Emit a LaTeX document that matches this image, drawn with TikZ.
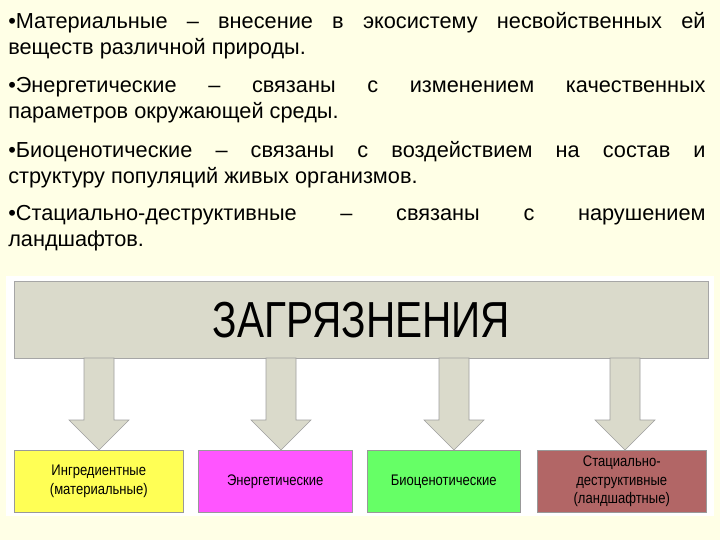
\documentclass[tikz,border=0pt]{standalone}
\usepackage{fontspec}
\setmainfont{Liberation Sans}
\begin{document}
\begin{tikzpicture}[x=0.75pt,y=-0.75pt,
  bul/.style={anchor=north west,text width=523pt,align=justify,inner sep=0pt,font=\fontsize{16.3}{19.5}\selectfont},
  hdr/.style={draw=gray!70,fill=hdrgray},
  cbox/.style={draw=gray!80,minimum height=46.5pt,align=center,font=\fontsize{11.5}{14}\selectfont,inner sep=0pt},
  arr/.style={draw=gray!75,fill=hdrgray}]
\definecolor{bg}{HTML}{FFFFE6}
\definecolor{hdrgray}{HTML}{DADACB}
\definecolor{cy}{HTML}{FFFF55}
\definecolor{cm}{HTML}{FF55FF}
\definecolor{cg}{HTML}{66FF66}
\definecolor{cb}{HTML}{B26666}
\useasboundingbox (0,0) rectangle (720,540);
\fill[bg] (0,0) rectangle (720,540);
\fill[white] (6,276) rectangle (714,516);
\node[bul] (t1) at (8,12) {•Материальные – внесение в экосистему несвойственных ей\linebreak веществ различной природы.};
\node[bul] (t2) at (8,77) {•Энергетические – связаны с изменением качественных\linebreak параметров окружающей среды.};
\node[bul] (t3) at (8,141) {•Биоценотические – связаны с воздействием на состав и\linebreak структуру популяций живых организмов.};
\node[bul] (t4) at (8,205) {•Стациально-деструктивные – связаны с нарушением\linebreak ландшафтов.};
\node[hdr,minimum width=520.5pt,minimum height=57.75pt,inner sep=0pt,font=\fontsize{38}{42}\selectfont,anchor=north west] (h) at (14,281) {\scalebox{0.8}[1]{ЗАГРЯЗНЕНИЯ}};
\node[cbox,fill=cy,minimum width=126.75pt,anchor=north west] (b1) at (14,450) {\scalebox{0.85}[1]{Ингредиентные}\\\scalebox{0.85}[1]{(материальные)}};
\node[cbox,fill=cm,minimum width=115.5pt,anchor=north west] (b2) at (198,450) {\scalebox{0.85}[1]{Энергетические}};
\node[cbox,fill=cg,minimum width=114.75pt,anchor=north west] (b3) at (367,450) {\scalebox{0.85}[1]{Биоценотические}};
\node[cbox,fill=cb,minimum width=126.75pt,anchor=north west] (b4) at (537,450) {\scalebox{0.85}[1]{Стациально-}\\\scalebox{0.85}[1]{деструктивные}\\\scalebox{0.85}[1]{(ландшафтные)}};
\foreach \b/\cx in {b1/99,b2/281,b3/454,b4/625}{
  \draw[arr] (\cx-15,358) -- (\cx+15,358) -- (\cx+15,420) -- (\cx+30,420) -- (\cx,450) -- (\cx-30,420) -- (\cx-15,420) -- cycle;
}
\end{tikzpicture}
\end{document}
